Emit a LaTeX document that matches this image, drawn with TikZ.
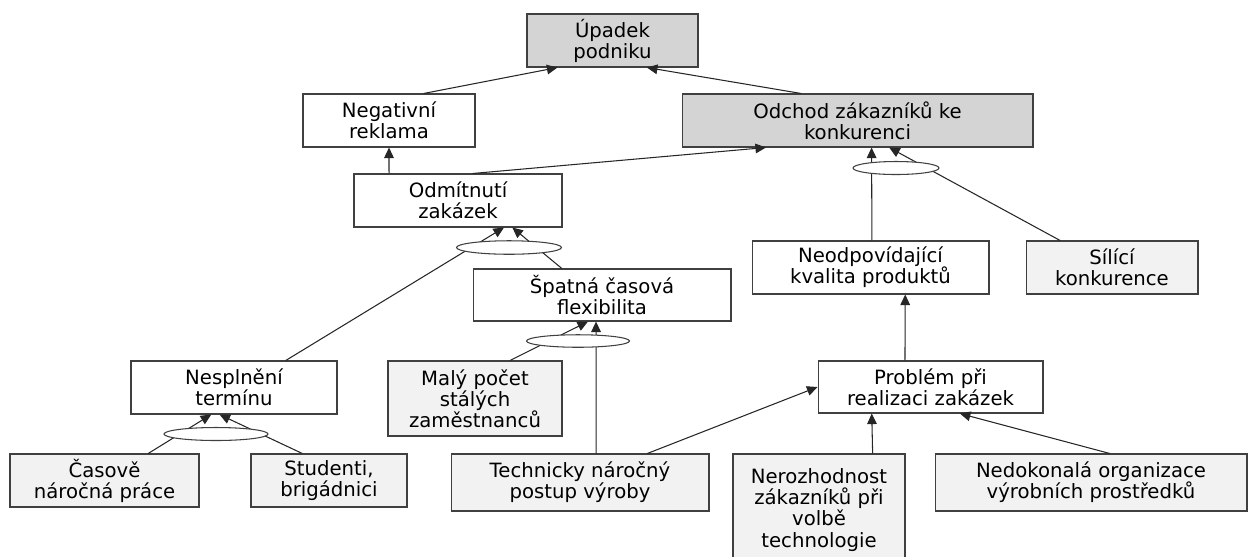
\documentclass[tikz,border=0pt]{standalone}
\usepackage{fontspec}
\setmainfont{DejaVu Sans}
\usetikzlibrary{positioning,calc,arrows.meta,shapes.geometric}
\definecolor{EffectGray}{RGB}{212,212,212}
\definecolor{CauseGray}{RGB}{242,242,242}
\definecolor{EdgeGray}{RGB}{64,64,64}

\begin{document}
\begin{tikzpicture}[
    x=0.02cm,
    y=-0.02cm,
    font=\fontsize{11.2}{12}\selectfont,
    box/.style={
        draw=EdgeGray,
        line width=0.6pt,
        align=center,
        inner sep=2pt,
        fill=white
    },
    effect/.style={box, fill=EffectGray},
    cause/.style={box, fill=CauseGray},
    arrow/.style={
        -{Triangle[length=6pt,width=5.5pt]},
        line width=0.6pt,
        draw=black!85
    },
    andgate/.style={
        ellipse,
        draw=EdgeGray,
        fill=white,
        line width=0.6pt,
        inner sep=0pt
    }
]

\useasboundingbox (0,0) rectangle (1248,556);

% top levels
\node[effect, minimum width=3.42cm, minimum height=1.06cm] (upadek) at (612.5,40.5) {Úpadek\\podniku};
\node[box, minimum width=3.44cm, minimum height=1.06cm] (negativni) at (389,120.5) {Negativní\\reklama};
\node[effect, minimum width=7.02cm, minimum height=1.06cm] (odchod) at (857.5,120.5) {Odchod zákazníků ke\\konkurenci};
\node[box, minimum width=4.16cm, minimum height=1.06cm] (odmitnuti) at (458,200.5) {Odmítnutí\\zakázek};
\node[box, minimum width=5.16cm, minimum height=1.04cm] (spatna) at (602,295) {Špatná časová\\flexibilita};
\node[box, minimum width=4.74cm, minimum height=1.06cm] (neodp) at (870.5,267.5) {Neodpovídající\\kvalita produktů};
\node[cause, minimum width=3.44cm, minimum height=1.06cm] (silici) at (1112,267.5) {Sílící\\konkurence};

% middle
\node[box, minimum width=4.12cm, minimum height=1.06cm] (nesplneni) at (234,387.5) {Nesplnění\\termínu};
\node[cause, minimum width=3.48cm, minimum height=1.5cm] (maly) at (475,398.5) {Malý počet\\stálých\\zaměstnanců};
\node[box, minimum width=4.5cm, minimum height=1.04cm] (problem) at (930.5,387) {Problém při\\realizaci zakázek};

% bottom
\node[cause, minimum width=3.78cm, minimum height=1.06cm] (casove) at (104.5,480.5) {Časově\\náročná práce};
\node[cause, minimum width=3.12cm, minimum height=1.06cm] (studenti) at (329,480.5) {Studenti,\\brigádnici};
\node[cause, minimum width=5.16cm, minimum height=1.14cm] (technicky) at (580,482.5) {Technicky náročný\\postup výroby};
\node[cause, minimum width=3.44cm, minimum height=2.24cm] (nerozhodnost) at (819,510) {Nerozhodnost\\zákazníků při\\volbě\\technologie};
\node[cause, minimum width=6.24cm, minimum height=1.14cm] (nedokonala) at (1091,482.5) {Nedokonalá organizace\\výrobních prostředků};

% connectors
\draw[arrow] ($(negativni.north west)!0.70!(negativni.north east)$) -- ($(upadek.south west)!0.18!(upadek.south east)$);
\draw[arrow] ($(odchod.north west)!0.34!(odchod.north east)$) -- ($(upadek.south west)!0.70!(upadek.south east)$);
\draw[arrow] ($(odmitnuti.north west)!0.17!(odmitnuti.north east)$) -- ($(negativni.south west)!0.50!(negativni.south east)$);
\draw[arrow] ($(odmitnuti.north west)!0.57!(odmitnuti.north east)$) -- ($(odchod.south west)!0.24!(odchod.south east)$);
\draw[arrow] ($(nesplneni.north west)!0.75!(nesplneni.north east)$) -- ($(odmitnuti.south west)!0.72!(odmitnuti.south east)$);
\draw[arrow] ($(spatna.north west)!0.345!(spatna.north east)$) -- ($(odmitnuti.south west)!0.76!(odmitnuti.south east)$);
\draw[arrow] ($(maly.north west)!0.70!(maly.north east)$) -- ($(spatna.south west)!0.446!(spatna.south east)$);
\draw[arrow] ($(technicky.north west)!0.562!(technicky.north east)$) -- ($(spatna.south west)!0.477!(spatna.south east)$);
\draw[arrow] ($(neodp.north west)!0.506!(neodp.north east)$) -- ($(odchod.south west)!0.54!(odchod.south east)$);
\draw[arrow] ($(silici.north west)!0.20!(silici.north east)$) -- ($(odchod.south west)!0.59!(odchod.south east)$);
\draw[arrow] ($(casove.north west)!0.73!(casove.north east)$) -- ($(nesplneni.south west)!0.39!(nesplneni.south east)$);
\draw[arrow] ($(studenti.north west)!0.33!(studenti.north east)$) -- ($(nesplneni.south west)!0.43!(nesplneni.south east)$);
\draw[arrow] ($(technicky.north west)!0.76!(technicky.north east)$) -- (problem.west);
\draw[arrow] ($(problem.north west)!0.387!(problem.north east)$) -- ($(neodp.south west)!0.646!(neodp.south east)$);
\draw[arrow] ($(nerozhodnost.north west)!0.81!(nerozhodnost.north east)$) -- ($(problem.south west)!0.24!(problem.south east)$);
\draw[arrow] ($(nedokonala.north west)!0.56!(nedokonala.north east)$) -- ($(problem.south west)!0.63!(problem.south east)$);

% and-ellipses over the lines
\node[andgate, minimum width=1.72cm, minimum height=0.26cm] (and1) at (896,168) {};
\node[andgate, minimum width=2.1cm, minimum height=0.27cm] (and2) at (509,247.5) {};
\node[andgate, minimum width=2.06cm, minimum height=0.25cm] (and3) at (578,341) {};
\node[andgate, minimum width=2.08cm, minimum height=0.26cm] (and4) at (216,434) {};

\end{tikzpicture}
\end{document}
